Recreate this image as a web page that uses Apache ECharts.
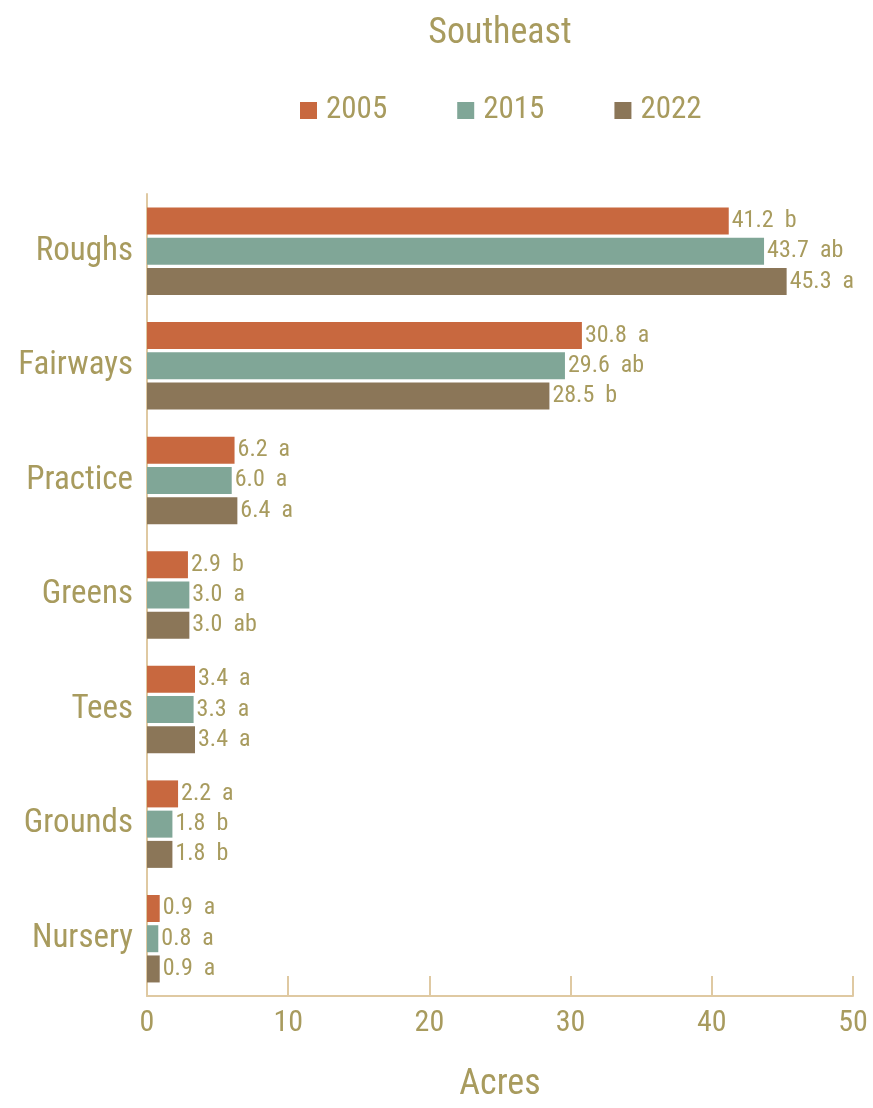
<!DOCTYPE html>
<html><head><meta charset="utf-8">
<script src="https://cdn.jsdelivr.net/npm/echarts@6/dist/echarts.min.js"></script>
<style>html,body{margin:0;padding:0;background:#fff}#c{width:873px;height:1108px}</style>
</head><body><div id="c"></div>
<script>
const categories = ['Roughs','Fairways','Practice','Greens','Tees','Grounds','Nursery'];
const years = ['2005','2015','2022'];
const v2005 = [41.2, 30.8, 6.2, 2.9, 3.4, 2.2, 0.9];
const v2015 = [43.7, 29.6, 6.0, 3.0, 3.3, 1.8, 0.8];
const v2022 = [45.3, 28.5, 6.4, 3.0, 3.4, 1.8, 0.9];
const l2005 = ['b','a','a','b','a','a','a'];
const l2015 = ['ab','ab','a','a','a','b','a'];
const l2022 = ['a','b','a','ab','a','b','a'];
const xTicks = [0,10,20,30,40,50];

const FONT = '"Liberation Sans Narrow","Roboto Condensed","Liberation Sans",sans-serif';
const TXT = '#a89b5e';
const AX = '#dfc9a2';
const colors = ['#c8683f','#80a697','#8b7658'];
const vals = [v2005, v2015, v2022];
const lets = [l2005, l2015, l2022];

const chart = echarts.init(document.getElementById('c'), null, {renderer:'canvas'});
chart.setOption({
  backgroundColor:'#fff',
  animation:false,
  title:{text:'Southeast', left:500, textAlign:'center', top:16, padding:0,
    textStyle:{fontFamily:FONT, fontSize:36, fontWeight:'normal', color:TXT}},
  legend:{top:90, left:295, itemWidth:17, itemHeight:17, itemGap:70, icon:'rect',
    textStyle:{fontFamily:FONT, fontSize:31, color:TXT, padding:[0,0,0,4]},
    data:years},
  grid:{left:147, right:20, top:194, bottom:112, containLabel:false},
  xAxis:{type:'value', min:0, max:50, interval:10,
    name:'Acres', nameLocation:'middle', nameGap:71,
    nameTextStyle:{fontFamily:FONT, fontSize:36, color:TXT},
    axisLine:{show:true, lineStyle:{color:AX, width:2}},
    axisTick:{show:true, inside:true, length:20, lineStyle:{color:AX, width:2}},
    axisLabel:{fontFamily:FONT, fontSize:30, color:TXT, margin:12,
      formatter:v=>xTicks.includes(v)?String(v):''},
    splitLine:{show:false}},
  yAxis:{type:'category', data:categories, inverse:true,
    axisLine:{show:true, lineStyle:{color:AX, width:2}},
    axisTick:{show:false},
    axisLabel:{fontFamily:FONT, fontSize:33, color:TXT, margin:14}},
  series: years.map((y,i)=>({
    name:y, type:'bar', data:vals[i], barWidth:27, barGap:'12%',
    itemStyle:{color:colors[i]},
    label:{show:true, position:'right', distance:3, fontFamily:FONT, fontSize:24, color:TXT,
      formatter:p=>p.value.toFixed(1)+'  '+lets[i][p.dataIndex]}
  }))
});
</script></body></html>
